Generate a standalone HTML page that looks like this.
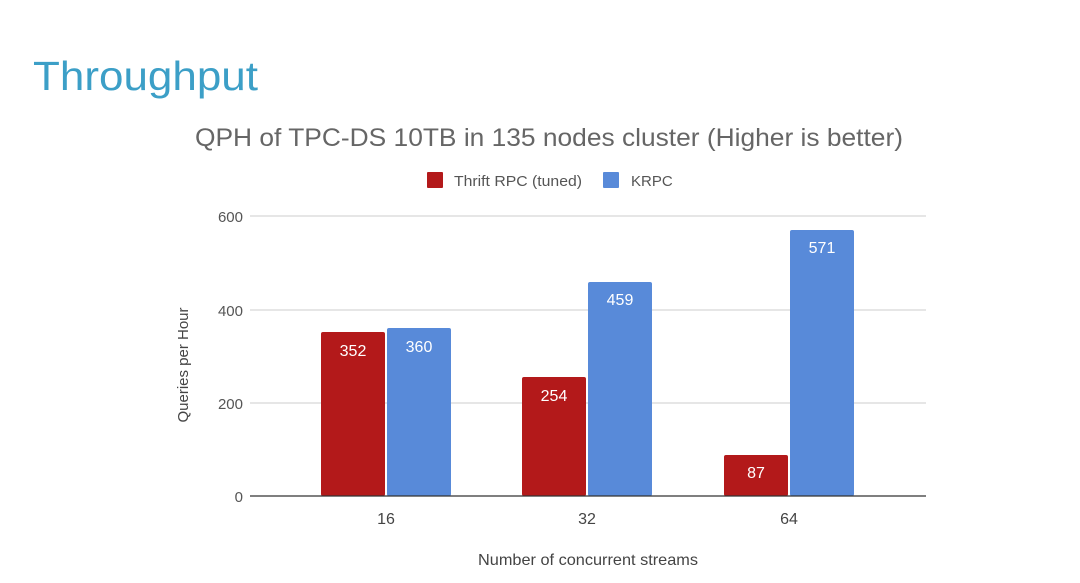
<!DOCTYPE html>
<html><head><style>
html,body{margin:0;padding:0;background:#fff;}
svg{display:block;}
text{font-family:"Liberation Sans",sans-serif;}
</style></head><body>
<svg width="1080" height="583" viewBox="0 0 1080 583" xmlns="http://www.w3.org/2000/svg">
<rect width="1080" height="583" fill="#fff"/>
<text x="33" y="90" font-size="41" fill="#3c9fc7" textLength="225" lengthAdjust="spacingAndGlyphs">Throughput</text>
<text x="195" y="146" font-size="25" fill="#666" textLength="708" lengthAdjust="spacingAndGlyphs">QPH of TPC-DS 10TB in 135 nodes cluster (Higher is better)</text>
<rect x="427" y="172" width="16" height="16" fill="#b3191a" rx="1"/>
<text x="454" y="186" font-size="15" fill="#555" textLength="128" lengthAdjust="spacingAndGlyphs">Thrift RPC (tuned)</text>
<rect x="603" y="172" width="16" height="16" fill="#588ad9" rx="1"/>
<text x="631" y="186" font-size="15" fill="#555">KRPC</text>
<g stroke="#d6d6d6" stroke-width="1.3">
<line x1="250" y1="216" x2="926" y2="216"/>
<line x1="250" y1="310" x2="926" y2="310"/>
<line x1="250" y1="403" x2="926" y2="403"/>
</g>
<g font-size="15" fill="#555" text-anchor="end">
<text x="243" y="222">600</text>
<text x="243" y="316">400</text>
<text x="243" y="409">200</text>
<text x="243" y="502">0</text>
</g>
<g fill="#b3191a">
<rect x="321" y="332" width="64" height="164" rx="2"/>
<rect x="522" y="377" width="64" height="119" rx="2"/>
<rect x="724" y="455" width="64" height="41" rx="2"/>
</g>
<g fill="#588ad9">
<rect x="387" y="328" width="64" height="168" rx="2"/>
<rect x="588" y="282" width="64" height="214" rx="2"/>
<rect x="790" y="230" width="64" height="266" rx="2"/>
</g>
<line x1="250" y1="496" x2="926" y2="496" stroke="#333" stroke-width="1.3"/>
<g font-size="16" fill="#fff" text-anchor="middle">
<text x="353" y="356">352</text>
<text x="419" y="352">360</text>
<text x="554" y="401">254</text>
<text x="620" y="305">459</text>
<text x="756" y="478">87</text>
<text x="822" y="253">571</text>
</g>
<g font-size="16" fill="#444" text-anchor="middle">
<text x="386" y="524">16</text>
<text x="587" y="524">32</text>
<text x="789" y="524">64</text>
<text x="588" y="565" textLength="220" lengthAdjust="spacingAndGlyphs">Number of concurrent streams</text>
<text transform="translate(188,365) rotate(-90)" font-size="15">Queries per Hour</text>
</g>
</svg>
</body></html>
